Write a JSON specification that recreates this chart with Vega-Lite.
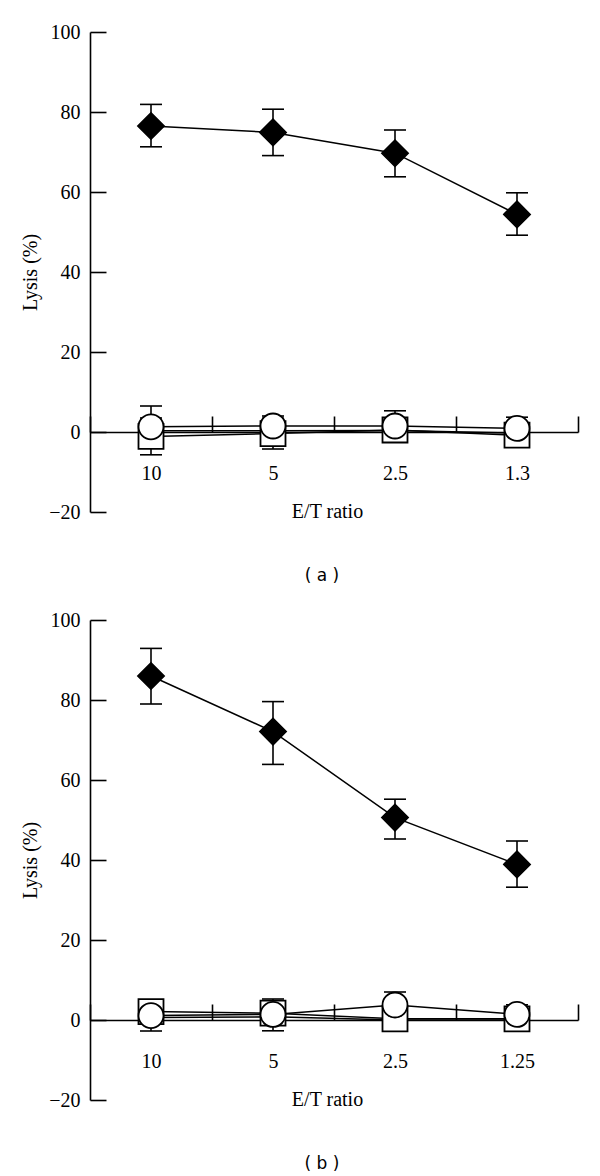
{
  "$schema": "https://vega.github.io/schema/vega-lite/v6.json",
  "background": "white",
  "padding": {"left": 20, "top": 22, "right": 5, "bottom": 5},
  "spacing": 26,
  "config": {
    "view": {"stroke": null},
    "font": "Liberation Serif",
    "axis": {
      "domainColor": "black", "domainWidth": 1.6, "tickColor": "black", "tickWidth": 1.6,
      "labelFont": "Liberation Serif", "titleFont": "Liberation Serif",
      "labelFontSize": 20, "titleFontSize": 20, "titleFontWeight": "normal",
      "labelColor": "black", "titleColor": "black", "grid": false
    },
    "title": {"font": "DejaVu Sans", "fontSize": 17, "fontWeight": "normal", "color": "black", "orient": "bottom", "anchor": "middle"}
  },
  "data": {"values": [
    {"panel": "a", "ratio": "10", "idx": 0, "series": "diamond", "lysis": 76.5, "lo": 71.3, "hi": 81.9},
    {"panel": "a", "ratio": "5", "idx": 1, "series": "diamond", "lysis": 74.9, "lo": 69.1, "hi": 80.7},
    {"panel": "a", "ratio": "2.5", "idx": 2, "series": "diamond", "lysis": 69.7, "lo": 63.8, "hi": 75.5},
    {"panel": "a", "ratio": "1.3", "idx": 3, "series": "diamond", "lysis": 54.4, "lo": 49.2, "hi": 59.8},
    {"panel": "a", "ratio": "10", "idx": 0, "series": "circle", "lysis": 1.3, "lo": -3.9, "hi": 6.5},
    {"panel": "a", "ratio": "5", "idx": 1, "series": "circle", "lysis": 1.5, "lo": -1.0, "hi": 4.0},
    {"panel": "a", "ratio": "2.5", "idx": 2, "series": "circle", "lysis": 1.5, "lo": -2.3, "hi": 5.3},
    {"panel": "a", "ratio": "1.3", "idx": 3, "series": "circle", "lysis": 0.9, "lo": -1.9, "hi": 3.7},
    {"panel": "a", "ratio": "10", "idx": 0, "series": "square", "lysis": -1.1, "lo": -5.7, "hi": 3.5},
    {"panel": "a", "ratio": "5", "idx": 1, "series": "square", "lysis": -0.4, "lo": -4.25, "hi": 3.45},
    {"panel": "a", "ratio": "2.5", "idx": 2, "series": "square", "lysis": 0.5, "lo": -1.5, "hi": 2.5},
    {"panel": "a", "ratio": "1.3", "idx": 3, "series": "square", "lysis": -0.8, "lo": -3.0, "hi": 1.4},
    {"panel": "a", "ratio": "10", "idx": 0, "series": "other", "lysis": 0.3, "lo": null, "hi": null},
    {"panel": "a", "ratio": "5", "idx": 1, "series": "other", "lysis": 0.3, "lo": null, "hi": null},
    {"panel": "a", "ratio": "2.5", "idx": 2, "series": "other", "lysis": 0.4, "lo": null, "hi": null},
    {"panel": "a", "ratio": "1.3", "idx": 3, "series": "other", "lysis": -0.3, "lo": null, "hi": null},
    {"panel": "b", "ratio": "10", "idx": 0, "series": "diamond", "lysis": 86.0, "lo": 79.0, "hi": 92.9},
    {"panel": "b", "ratio": "5", "idx": 1, "series": "diamond", "lysis": 72.1, "lo": 63.9, "hi": 79.6},
    {"panel": "b", "ratio": "2.5", "idx": 2, "series": "diamond", "lysis": 50.6, "lo": 45.25, "hi": 55.2},
    {"panel": "b", "ratio": "1.25", "idx": 3, "series": "diamond", "lysis": 38.9, "lo": 33.2, "hi": 44.75},
    {"panel": "b", "ratio": "10", "idx": 0, "series": "circle", "lysis": 1.1, "lo": -2.75, "hi": 4.9},
    {"panel": "b", "ratio": "5", "idx": 1, "series": "circle", "lysis": 1.4, "lo": -2.7, "hi": 5.25},
    {"panel": "b", "ratio": "2.5", "idx": 2, "series": "circle", "lysis": 3.75, "lo": 0.5, "hi": 7.0},
    {"panel": "b", "ratio": "1.25", "idx": 3, "series": "circle", "lysis": 1.4, "lo": -1.0, "hi": 3.8},
    {"panel": "b", "ratio": "10", "idx": 0, "series": "square", "lysis": 2.1, "lo": 0.0, "hi": 4.2},
    {"panel": "b", "ratio": "5", "idx": 1, "series": "square", "lysis": 1.7, "lo": 0.0, "hi": 3.4},
    {"panel": "b", "ratio": "2.5", "idx": 2, "series": "square", "lysis": 0.3, "lo": -1.0, "hi": 1.6},
    {"panel": "b", "ratio": "1.25", "idx": 3, "series": "square", "lysis": 0.3, "lo": -1.0, "hi": 1.6},
    {"panel": "b", "ratio": "10", "idx": 0, "series": "other", "lysis": 0.6, "lo": null, "hi": null},
    {"panel": "b", "ratio": "5", "idx": 1, "series": "other", "lysis": 0.8, "lo": null, "hi": null},
    {"panel": "b", "ratio": "2.5", "idx": 2, "series": "other", "lysis": 0.0, "lo": null, "hi": null},
    {"panel": "b", "ratio": "1.25", "idx": 3, "series": "other", "lysis": 0.0, "lo": null, "hi": null}
  ]},
  "vconcat": [
    {
      "width": 488, "height": 480,
      "title": {"text": "( a )", "offset": 46, "dx": -12},
      "transform": [{"filter": "datum.panel === 'a'"}],
      "encoding": {
        "x": {"field": "ratio", "type": "ordinal", "sort": ["10", "5", "2.5", "1.3"],
          "scale": {"type": "band", "paddingInner": 0, "paddingOuter": 0},
          "axis": {"title": "E/T ratio", "orient": "bottom", "offset": -80, "tickBand": "extent", "tickSize": -16, "labelPadding": 47, "titlePadding": 18, "labelAngle": 0, "titleX": 237}}
      },
      "layer": [
        {"mark": {"type": "rule", "color": "black", "strokeWidth": 1.6},
          "encoding": {"y": {"field": "lo", "type": "quantitative", "scale": {"domain": [-20, 100], "nice": false, "zero": false},
            "axis": {"title": "Lysis (%)", "values": [-20, 0, 20, 40, 60, 80, 100], "tickSize": -16, "labelPadding": 26, "titlePadding": 8}},
            "y2": {"field": "hi"}}},
        {"mark": {"type": "tick", "color": "black", "size": 22, "thickness": 1.6, "opacity": 1},
          "encoding": {"y": {"field": "lo", "type": "quantitative"}}},
        {"mark": {"type": "tick", "color": "black", "size": 22, "thickness": 1.6, "opacity": 1},
          "encoding": {"y": {"field": "hi", "type": "quantitative"}}},
        {"mark": {"type": "line", "color": "black", "strokeWidth": 1.5},
          "encoding": {"y": {"field": "lysis", "type": "quantitative"}, "detail": {"field": "series"}, "order": {"field": "idx"}}},
        {"transform": [{"filter": "datum.series === 'square'"}],
          "mark": {"type": "point", "shape": "square", "filled": true, "fill": "white", "stroke": "black", "strokeWidth": 1.8, "size": 625, "opacity": 1},
          "encoding": {"y": {"field": "lysis", "type": "quantitative"}}},
        {"transform": [{"filter": "datum.series === 'circle'"}],
          "mark": {"type": "point", "shape": "circle", "filled": true, "fill": "white", "stroke": "black", "strokeWidth": 1.8, "size": 625, "opacity": 1},
          "encoding": {"y": {"field": "lysis", "type": "quantitative"}}},
        {"transform": [{"filter": "datum.series === 'diamond'"}],
          "mark": {"type": "point", "shape": "diamond", "filled": true, "fill": "black", "stroke": "black", "strokeWidth": 1.5, "size": 700, "opacity": 1},
          "encoding": {"y": {"field": "lysis", "type": "quantitative"}}}
      ]
    },
    {
      "width": 488, "height": 480,
      "title": {"text": "( b )", "offset": 46, "dx": -12},
      "transform": [{"filter": "datum.panel === 'b'"}],
      "encoding": {
        "x": {"field": "ratio", "type": "ordinal", "sort": ["10", "5", "2.5", "1.25"],
          "scale": {"type": "band", "paddingInner": 0, "paddingOuter": 0},
          "axis": {"title": "E/T ratio", "orient": "bottom", "offset": -80, "tickBand": "extent", "tickSize": -16, "labelPadding": 47, "titlePadding": 18, "labelAngle": 0, "titleX": 237}}
      },
      "layer": [
        {"mark": {"type": "rule", "color": "black", "strokeWidth": 1.6},
          "encoding": {"y": {"field": "lo", "type": "quantitative", "scale": {"domain": [-20, 100], "nice": false, "zero": false},
            "axis": {"title": "Lysis (%)", "values": [-20, 0, 20, 40, 60, 80, 100], "tickSize": -16, "labelPadding": 26, "titlePadding": 8}},
            "y2": {"field": "hi"}}},
        {"mark": {"type": "tick", "color": "black", "size": 22, "thickness": 1.6, "opacity": 1},
          "encoding": {"y": {"field": "lo", "type": "quantitative"}}},
        {"mark": {"type": "tick", "color": "black", "size": 22, "thickness": 1.6, "opacity": 1},
          "encoding": {"y": {"field": "hi", "type": "quantitative"}}},
        {"mark": {"type": "line", "color": "black", "strokeWidth": 1.5},
          "encoding": {"y": {"field": "lysis", "type": "quantitative"}, "detail": {"field": "series"}, "order": {"field": "idx"}}},
        {"transform": [{"filter": "datum.series === 'square'"}],
          "mark": {"type": "point", "shape": "square", "filled": true, "fill": "white", "stroke": "black", "strokeWidth": 1.8, "size": 625, "opacity": 1},
          "encoding": {"y": {"field": "lysis", "type": "quantitative"}}},
        {"transform": [{"filter": "datum.series === 'circle'"}],
          "mark": {"type": "point", "shape": "circle", "filled": true, "fill": "white", "stroke": "black", "strokeWidth": 1.8, "size": 625, "opacity": 1},
          "encoding": {"y": {"field": "lysis", "type": "quantitative"}}},
        {"transform": [{"filter": "datum.series === 'diamond'"}],
          "mark": {"type": "point", "shape": "diamond", "filled": true, "fill": "black", "stroke": "black", "strokeWidth": 1.5, "size": 700, "opacity": 1},
          "encoding": {"y": {"field": "lysis", "type": "quantitative"}}}
      ]
    }
  ]
}
